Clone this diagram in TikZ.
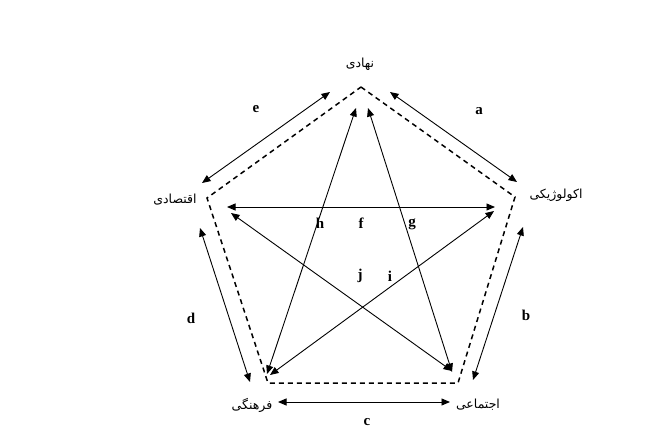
\documentclass[tikz,border=0pt]{standalone}
\usepackage{fontspec}
\setmainfont{Liberation Serif}
\newfontfamily\arabicfont[Script=Arabic]{DejaVu Sans}
\TeXXeTstate=1
\usetikzlibrary{arrows.meta}
\tikzset{
  dbl/.style={{Triangle[length=8.5pt,width=7pt]}-{Triangle[length=8.5pt,width=7pt]}, line width=0.9pt, black},
  dashpent/.style={line width=1.5pt, dash pattern=on 5pt off 4pt, black},
  fa/.style={font=\arabicfont\fontsize{12.5}{13}\selectfont, inner sep=1pt},
  lt/.style={font=\bfseries\fontsize{15}{15}\selectfont, inner sep=0pt}
}
\begin{document}
\begin{tikzpicture}[x=1pt,y=-1pt]
\useasboundingbox[fill=white] (0,0) rectangle (656,440);
% text nodes
\node[fa] (nahadi) at (360,64) {\beginR نهادی\endR};
\node[fa] (ekol) at (556,195) {\beginR اکولوژیکی\endR};
\node[fa] (eghte) at (175,200) {\beginR اقتصادی\endR};
\node[fa] (farh) at (252,405) {\beginR فرهنگی\endR};
\node[fa] (ejte) at (478,405) {\beginR اجتماعی\endR};
% dashed pentagon
\coordinate (pT) at (361,87);
\coordinate (pR) at (515,197);
\coordinate (pBR) at (458,383);
\coordinate (pBL) at (268,383);
\coordinate (pL) at (207,198);
\draw[dashpent] (pT) -- (pR) -- (pBR) -- (pBL) -- (pL) -- cycle;
% outer arrow ends
\coordinate (e1) at (202,183); \coordinate (e2) at (330,92);
\coordinate (a1) at (390,92);  \coordinate (a2) at (517,182);
\coordinate (b1) at (523,227); \coordinate (b2) at (473,380);
\coordinate (d1) at (200,228); \coordinate (d2) at (250,382);
\coordinate (c1) at (278,402); \coordinate (c2) at (450,402);
\draw[dbl] (e1) -- (e2);
\draw[dbl] (a1) -- (a2);
\draw[dbl] (b1) -- (b2);
\draw[dbl] (d1) -- (d2);
\draw[dbl] (c1) -- (c2);
% star arrow ends
\coordinate (h1) at (356,108); \coordinate (h2) at (267,374);
\coordinate (g1) at (368,108); \coordinate (g2) at (452,372);
\coordinate (f1) at (227,207); \coordinate (f2) at (495,207);
\coordinate (j1) at (231,213); \coordinate (j2) at (452,371);
\coordinate (i1) at (494,211); \coordinate (i2) at (270,375);
\draw[dbl] (h1) -- (h2);
\draw[dbl] (g1) -- (g2);
\draw[dbl] (f1) -- (f2);
\draw[dbl] (j1) -- (j2);
\draw[dbl] (i1) -- (i2);
% letter labels
\node[lt] (le) at (256,109) {e};
\node[lt] (la) at (479,111) {a};
\node[lt] (lb) at (526,315) {b};
\node[lt] (lc) at (367,422) {c};
\node[lt] (ld) at (191,318) {d};
\node[lt] (lh) at (320,223) {h};
\node[lt] (lf) at (361,223) {f};
\node[lt] (lg) at (412,224) {g};
\node[lt] (lj) at (360,276) {j};
\node[lt] (li) at (390,276) {i};
\end{tikzpicture}
\end{document}
